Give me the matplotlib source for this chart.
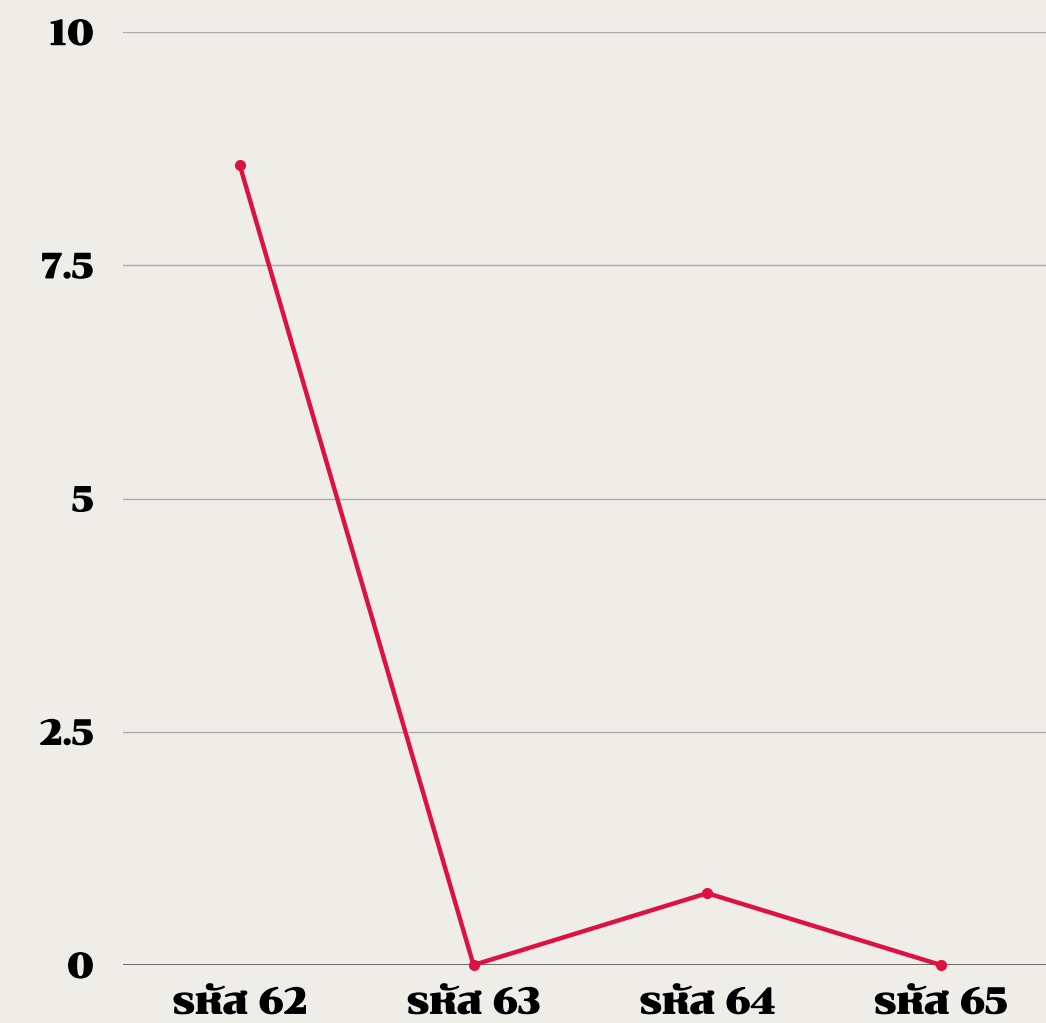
import matplotlib.pyplot as plt
import matplotlib.patheffects as pe

cats = ['รหัส 62', 'รหัส 63', 'รหัส 64', 'รหัส 65']
vals = [8.57, 0.0, 0.77, 0.0]
yticks = [0, 2.5, 5, 7.5, 10]
ylabels = ['0', '2.5', '5', '7.5', '10']

bg = '#EFEDE8'
red = '#DC1243'

plt.rcParams['font.family'] = ['Chonburi', 'DejaVu Serif']

fig = plt.figure(figsize=(10.46, 10.23), dpi=100, facecolor=bg)
ax = fig.add_axes([123 / 1046, 1 - 965 / 1023, 1 - 123 / 1046, (965 - 32) / 1023])
ax.set_facecolor(bg)

x = list(range(len(cats)))
ax.plot(x, vals, color=red, lw=3.2, marker='o', ms=7, zorder=3, clip_on=False)

ax.set_xlim(-0.5, 3.45)
ax.set_ylim(0, 10)
ax.set_yticks(yticks)
ax.set_yticklabels(ylabels, fontsize=25)
ax.set_xticks(x)
ax.set_xticklabels(cats, fontsize=26)

bold = [pe.withStroke(linewidth=1.0, foreground='black')]
for t in ax.get_xticklabels() + ax.get_yticklabels():
    t.set_path_effects(bold)

for y in yticks[1:]:
    ax.axhline(y, color='#ABABAB', lw=1, zorder=1)
ax.axhline(0, color='#555555', lw=1.2, zorder=2)

for s in ax.spines.values():
    s.set_visible(False)
ax.tick_params(axis='both', length=0)
ax.tick_params(axis='y', pad=21)
ax.tick_params(axis='x', pad=16)

fig.savefig('out.png', dpi=100, facecolor=bg)
